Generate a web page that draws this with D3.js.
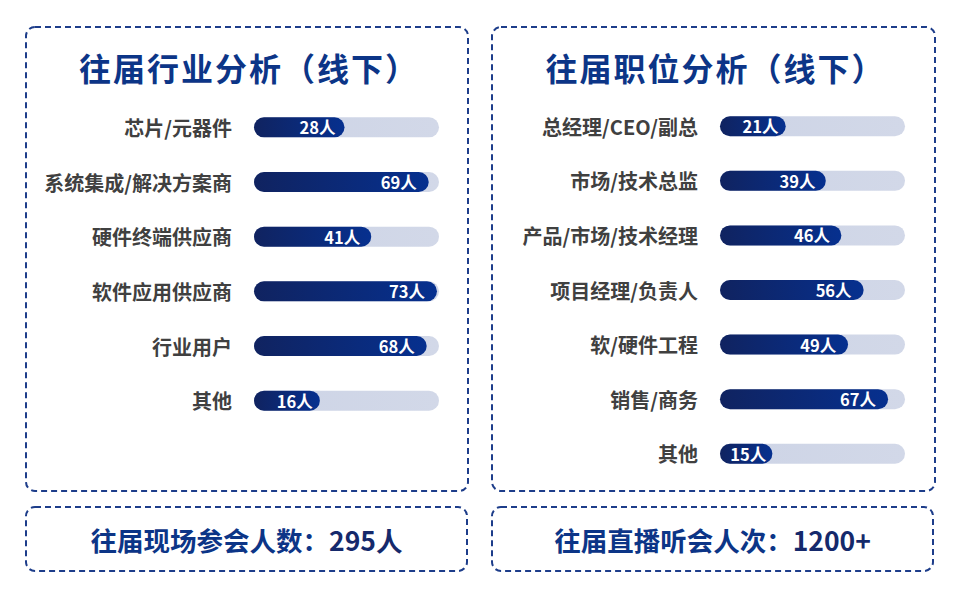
<!DOCTYPE html>
<html>
<head>
<meta charset="utf-8">
<script src="https://cdn.jsdelivr.net/npm/d3@7"></script>
<style>
  html, body { margin: 0; padding: 0; background: #fff; }
  svg { display: block; font-family: "Noto Sans CJK SC", "Noto Sans", sans-serif; }
</style>
</head>
<body>
<div id="chart"></div>
<script>
const industryCats = ['芯片/元器件', '系统集成/解决方案商', '硬件终端供应商', '软件应用供应商', '行业用户', '其他'];
const industryVals = [28, 69, 41, 73, 68, 16];

const jobCats = ['总经理/CEO/副总', '市场/技术总监', '产品/市场/技术经理', '项目经理/负责人', '软/硬件工程', '销售/商务', '其他'];
const jobVals = [21, 39, 46, 56, 49, 67, 15];

const titles = ['往届行业分析（线下）', '往届职位分析（线下）'];
const footers = [
  { label: '往届现场参会人数：', value: '295人' },
  { label: '往届直播听会人次：', value: '1200+' }
];
const unit = '人';

const W = 961, H = 590;
const blue = '#0c3587', navy = '#15296b', border = '#1d3d8a';

const svg = d3.select('#chart').append('svg')
  .attr('width', W).attr('height', H);

const defs = svg.append('defs');
const fillGrad = defs.append('linearGradient').attr('id', 'barFill');
fillGrad.append('stop').attr('offset', '0%').attr('stop-color', '#102360');
fillGrad.append('stop').attr('offset', '100%').attr('stop-color', '#06308f');
const trackGrad = defs.append('linearGradient').attr('id', 'trackFill');
trackGrad.append('stop').attr('offset', '0%').attr('stop-color', '#cdd4e6');
trackGrad.append('stop').attr('offset', '100%').attr('stop-color', '#d2d8e8');

// panel layout
const panels = [
  { x: 26, y: 27, w: 442, h: 464, cats: industryCats, vals: industryVals,
    trackX: 254, rowTop: 100, rowBottom: 428, barMin: 33, dom: 74 },
  { x: 492, y: 27, w: 443, h: 464, cats: jobCats, vals: jobVals,
    trackX: 720, rowTop: 99, rowBottom: 481, barMin: 19, dom: 74.6 }
];
const footBoxes = [
  { x: 26, y: 507, w: 441, h: 64 },
  { x: 492, y: 507, w: 441, h: 64 }
];
const trackW = 185, barH = 20;

// short bars keep their label closer to the rounded end
const labelPad = d3.scaleLinear().domain([50, 130]).range([6, 12]).clamp(true);

function dashedBox(b) {
  svg.append('rect')
    .attr('x', b.x).attr('y', b.y)
    .attr('width', b.w).attr('height', b.h)
    .attr('rx', 9)
    .attr('fill', 'none')
    .attr('stroke', border)
    .attr('stroke-width', 2)
    .attr('stroke-dasharray', '6 4');
}

panels.forEach((p, pi) => {
  dashedBox(p);

  svg.append('text')
    .attr('x', p.x + p.w / 2 + 2)
    .attr('y', 67)
    .attr('text-anchor', 'middle')
    .attr('dominant-baseline', 'central')
    .attr('font-size', 32)
    .attr('font-weight', 700)
    .attr('letter-spacing', 2)
    .attr('fill', blue)
    .text(titles[pi]);

  const y = d3.scaleBand()
    .domain(p.cats)
    .range([p.rowTop, p.rowBottom]);

  const x = d3.scaleLinear()
    .domain([0, p.dom])
    .range([p.barMin, trackW]);

  const data = p.cats.map((c, i) => ({ cat: c, val: p.vals[i] }));

  const g = svg.append('g').attr('class', 'bars');
  const row = g.selectAll('g.row')
    .data(data)
    .enter()
    .append('g')
    .attr('class', 'row')
    .attr('transform', d => `translate(0,${y(d.cat) + y.bandwidth() / 2})`);

  row.append('text')
    .attr('x', p.trackX - 22)
    .attr('text-anchor', 'end')
    .attr('dominant-baseline', 'central')
    .attr('font-size', 20)
    .attr('font-weight', 700)
    .attr('fill', '#404040')
    .text(d => d.cat);

  row.append('rect')
    .attr('x', p.trackX).attr('y', -barH / 2)
    .attr('width', trackW).attr('height', barH)
    .attr('rx', barH / 2)
    .attr('fill', 'url(#trackFill)');

  row.append('rect')
    .attr('x', p.trackX).attr('y', -barH / 2)
    .attr('width', d => x(d.val)).attr('height', barH)
    .attr('rx', barH / 2)
    .attr('fill', 'url(#barFill)');

  row.append('text')
    .attr('x', d => p.trackX + x(d.val) - labelPad(x(d.val)))
    .attr('text-anchor', 'end')
    .attr('dominant-baseline', 'central')
    .attr('font-size', 16.5)
    .attr('font-weight', 700)
    .attr('fill', '#fff')
    .text(d => d.val + unit);
});

footBoxes.forEach((b, i) => {
  dashedBox(b);
  const t = svg.append('text')
    .attr('x', b.x + b.w / 2)
    .attr('y', b.y + b.h / 2)
    .attr('text-anchor', 'middle')
    .attr('dominant-baseline', 'central')
    .attr('font-size', 26.5)
    .attr('font-weight', 700);
  t.append('tspan').attr('fill', blue).text(footers[i].label);
  t.append('tspan').attr('fill', navy).text(footers[i].value);
});
</script>
</body>
</html>
